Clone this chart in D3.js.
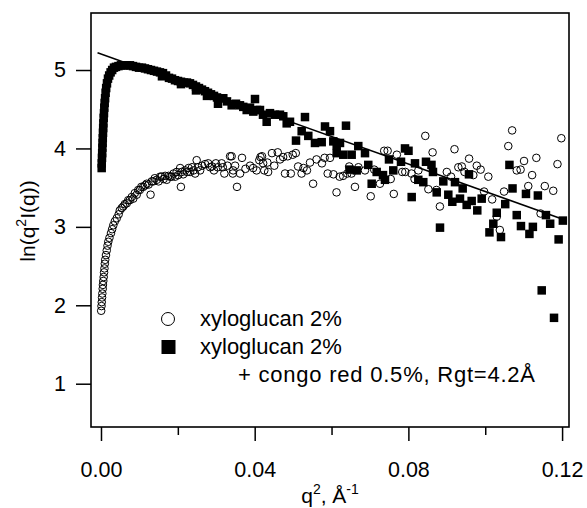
<!DOCTYPE html>
<meta charset="utf-8">
<style>
    body { margin: 0; background: #fff; }
    svg text { font-family: "Liberation Sans", Arial, sans-serif; fill: #000; }
    .axis path { display: none; }
    .axis line { stroke: #000; stroke-width: 1.5px; }
</style>
<body>
<svg width="587" height="508"></svg>
<script src="https://d3js.org/d3.v7.min.js"></script>
<script>
// xyloglucan 2% (open circles)
var xyloQ = [0.00005, 0.00013, 0.0002, 0.00028, 0.00035, 0.00045, 0.0005, 0.0006, 0.0007, 0.0008,
    0.0009, 0.001, 0.0011, 0.0013, 0.0015, 0.0017, 0.0019, 0.0022, 0.0026, 0.0029,
    0.0032, 0.0036, 0.0041, 0.0046, 0.0049, 0.0054, 0.0058, 0.0062, 0.0067, 0.0071,
    0.0075, 0.008, 0.0084, 0.0088, 0.0093, 0.0097, 0.0101, 0.0105, 0.011, 0.0115,
    0.0119, 0.0124, 0.0129, 0.0132, 0.0136, 0.014, 0.0145, 0.015, 0.0154, 0.0158,
    0.0163, 0.0167, 0.0171, 0.0176, 0.018, 0.0184, 0.0189, 0.0193, 0.0197, 0.0201,
    0.0206, 0.0208, 0.021, 0.0214, 0.0219, 0.0224, 0.0228, 0.0232, 0.0237, 0.0241,
    0.0245, 0.0249, 0.0252, 0.0258, 0.0263, 0.0271, 0.0279, 0.0284, 0.0289, 0.0294,
    0.0299, 0.0304, 0.0314, 0.0317, 0.0321, 0.0329, 0.0336, 0.034, 0.0343, 0.0344,
    0.0349, 0.0354, 0.0362, 0.0367, 0.0376, 0.0388, 0.0396, 0.0405, 0.0412, 0.0415,
    0.0419, 0.0422, 0.0425, 0.0433, 0.0435, 0.0445, 0.0451, 0.046, 0.0466, 0.0474,
    0.0479, 0.0486, 0.0494, 0.0499, 0.0507, 0.0513, 0.0522, 0.0527, 0.0536, 0.0544,
    0.0552, 0.0561, 0.0575, 0.0582, 0.059, 0.0596, 0.0605, 0.0613, 0.0621, 0.063,
    0.0641, 0.0646, 0.0652, 0.0661, 0.067, 0.0687, 0.0702, 0.0711, 0.0726, 0.0737,
    0.0746, 0.0754, 0.0762, 0.077, 0.0784, 0.0792, 0.0808, 0.0816, 0.0826, 0.0844,
    0.0852, 0.0863, 0.0873, 0.0882, 0.09, 0.0911, 0.092, 0.093, 0.0939, 0.0946,
    0.0958, 0.0969, 0.0978, 0.0988, 0.0997, 0.1008, 0.1018, 0.103, 0.1038, 0.1049,
    0.106, 0.107, 0.1082, 0.1092, 0.1101, 0.1112, 0.1122, 0.1133, 0.1144, 0.1155,
    0.1177, 0.1188, 0.1198];
var xyloLn = [1.93, 1.99, 2.04, 2.10, 2.15, 2.21, 2.26, 2.31, 2.36, 2.42,
    2.47, 2.53, 2.58, 2.64, 2.70, 2.76, 2.81, 2.86, 2.92, 2.97,
    3.02, 3.07, 3.11, 3.16, 3.21, 3.24, 3.26, 3.29, 3.30, 3.34,
    3.34, 3.38, 3.36, 3.43, 3.41, 3.47, 3.47, 3.51, 3.51, 3.53,
    3.55, 3.54, 3.41, 3.58, 3.58, 3.62, 3.60, 3.58, 3.64, 3.64,
    3.61, 3.65, 3.60, 3.65, 3.64, 3.64, 3.68, 3.64, 3.70, 3.66,
    3.75, 3.51, 3.70, 3.67, 3.72, 3.70, 3.75, 3.70, 3.76, 3.72,
    3.68, 3.85, 3.76, 3.72, 3.78, 3.80, 3.81, 3.76, 3.77, 3.72,
    3.81, 3.76, 3.81, 3.76, 3.68, 3.78, 3.90, 3.90, 3.68, 3.72,
    3.78, 3.51, 3.68, 3.88, 3.74, 3.78, 3.75, 3.72, 3.85, 3.89,
    3.90, 3.81, 3.72, 3.82, 3.70, 3.94, 3.78, 3.95, 3.86, 3.89,
    3.68, 3.90, 3.68, 3.92, 3.94, 3.77, 3.68, 3.75, 3.72, 3.82,
    3.55, 3.86, 3.81, 3.88, 3.68, 3.88, 3.67, 3.44, 3.64, 3.65,
    3.68, 3.77, 3.68, 3.51, 3.76, 3.72, 3.39, 3.73, 3.55, 3.97,
    3.97, 3.61, 3.42, 3.92, 3.70, 3.70, 3.68, 3.61, 3.72, 4.16,
    3.48, 3.95, 3.47, 3.26, 3.70, 3.64, 3.99, 3.76, 3.77, 3.70,
    3.87, 3.66, 3.78, 3.73, 3.45, 3.64, 3.35, 3.13, 2.96, 3.45,
    4.03, 4.23, 3.72, 3.73, 3.84, 3.52, 3.66, 3.88, 3.17, 3.52,
    3.46, 3.80, 4.13];

// xyloglucan 2% + congo red 0.5% (filled squares)
var congoQ = [0.00018, 0.0002, 0.00026, 0.00031, 0.00036, 0.00042, 0.00047, 0.00052, 0.00057, 0.00062,
    0.0007, 0.00078, 0.00086, 0.00096, 0.00107, 0.0012, 0.00135, 0.00156, 0.00182, 0.00213,
    0.0025, 0.00291, 0.00338, 0.0039, 0.00455, 0.0052, 0.006, 0.00677, 0.00755, 0.00833,
    0.00911, 0.00989, 0.01067, 0.01145, 0.01223, 0.01301, 0.01379, 0.01457, 0.01535, 0.01587,
    0.01613, 0.01692, 0.0177, 0.01848, 0.01926, 0.02004, 0.02082, 0.02082, 0.0216, 0.02238,
    0.02316, 0.02394, 0.02472, 0.02472, 0.0255, 0.02628, 0.02706, 0.02758, 0.02785, 0.02863,
    0.02941, 0.03019, 0.03045, 0.03097, 0.03183, 0.03279, 0.03401, 0.03513, 0.03617, 0.03703,
    0.03792, 0.03878, 0.03964, 0.04008, 0.0406, 0.04138, 0.04216, 0.04312, 0.04398, 0.04528,
    0.04658, 0.04744, 0.04833, 0.04919, 0.05075, 0.05223, 0.05309, 0.05395, 0.05569, 0.05744,
    0.0583, 0.0596, 0.06046, 0.06134, 0.0622, 0.06134, 0.06306, 0.06376, 0.06467, 0.06524,
    0.06655, 0.06696, 0.06871, 0.06956, 0.07045, 0.07175, 0.07339, 0.07391, 0.07495, 0.07607,
    0.07808, 0.07912, 0.08003, 0.08086, 0.08172, 0.08258, 0.08388, 0.08458, 0.08601, 0.0864,
    0.08737, 0.08823, 0.08909, 0.09039, 0.09143, 0.09213, 0.09343, 0.09413, 0.09517, 0.09577,
    0.09647, 0.09793, 0.09908, 0.1011, 0.1021, 0.1030, 0.1041, 0.1052, 0.1063, 0.1071,
    0.1082, 0.1093, 0.1106, 0.1115, 0.1124, 0.1137, 0.1147, 0.1158, 0.1169, 0.1179,
    0.1191, 0.1202];
var congoLn = [3.75, 3.81, 3.88, 3.94, 4.01, 4.07, 4.13, 4.20, 4.26, 4.32,
    4.39, 4.45, 4.52, 4.58, 4.64, 4.71, 4.77, 4.83, 4.89, 4.93,
    4.97, 5.00, 5.03, 5.04, 5.05, 5.06, 5.06, 5.06, 5.06, 5.05,
    5.04, 5.03, 5.03, 5.02, 5.01, 5.00, 4.99, 4.98, 4.97, 4.92,
    4.96, 4.93, 4.90, 4.89, 4.87, 4.86, 4.85, 4.82, 4.84, 4.84,
    4.83, 4.81, 4.79, 4.74, 4.77, 4.75, 4.73, 4.67, 4.71, 4.69,
    4.67, 4.65, 4.57, 4.64, 4.64, 4.60, 4.55, 4.57, 4.55, 4.53,
    4.49, 4.52, 4.47, 4.63, 4.49, 4.49, 4.43, 4.34, 4.45, 4.43,
    4.43, 4.41, 4.32, 4.34, 4.10, 4.22, 4.40, 4.16, 4.07, 4.08,
    4.28, 4.22, 4.09, 4.04, 4.07, 3.94, 3.92, 4.29, 3.73, 3.92,
    3.72, 4.03, 3.94, 3.79, 3.55, 3.70, 3.66, 3.60, 3.86, 3.72,
    3.83, 4.00, 3.97, 3.38, 3.81, 3.60, 3.57, 3.83, 3.79, 3.70,
    3.44, 2.99, 3.58, 3.41, 3.32, 3.57, 3.36, 3.49, 3.28, 3.67,
    3.33, 3.21, 3.36, 2.93, 3.04, 3.18, 2.87, 3.29, 3.79, 3.49,
    3.15, 3.01, 3.42, 2.91, 3.00, 3.40, 2.19, 3.15, 3.04, 1.84,
    2.84, 3.08];

// Guinier fit line, Rgt = 4.2 A
var fitQ = [-0.0009, 0.1200];
var fitLn = [5.22, 3.10];

var xMajor = [0.00, 0.04, 0.08, 0.12];
var xMinor = [0.02, 0.06, 0.10];
var yMajor = [1, 2, 3, 4, 5];

var svg = d3.select("svg");

var plot = { left: 91, right: 569, top: 13, bottom: 427 };

var x = d3.scaleLinear().domain([-0.0026, 0.1218]).range([plot.left, plot.right]);
var y = d3.scaleLinear().domain([0.448, 5.727]).range([plot.bottom, plot.top]);

// axes
var xAxis = svg.append("g")
    .attr("class", "axis")
    .attr("transform", "translate(0," + plot.bottom + ")")
    .call(d3.axisBottom(x).tickValues(xMajor).tickSize(14).tickPadding(21)
        .tickFormat(d3.format(".2f")));
xAxis.selectAll("text").style("font-size", "21.5px");

svg.append("g")
    .attr("class", "axis")
    .attr("transform", "translate(0," + plot.bottom + ")")
    .call(d3.axisBottom(x).tickValues(xMinor).tickSize(8).tickFormat(""));

var yAxis = svg.append("g")
    .attr("class", "axis")
    .attr("transform", "translate(" + plot.left + ",0)")
    .call(d3.axisLeft(y).tickValues(yMajor).tickSize(15).tickPadding(10)
        .tickFormat(d3.format("d")));
yAxis.selectAll("text").style("font-size", "21.5px");

// frame
svg.append("rect")
    .attr("x", plot.left)
    .attr("y", plot.top)
    .attr("width", plot.right - plot.left)
    .attr("height", plot.bottom - plot.top)
    .attr("fill", "none")
    .attr("stroke", "#000")
    .attr("stroke-width", 1.6);

// open circles
svg.append("g").selectAll("circle")
    .data(xyloQ)
    .enter().append("circle")
    .attr("cx", function (d) { return x(d); })
    .attr("cy", function (d, i) { return y(xyloLn[i]); })
    .attr("r", 3.8)
    .attr("fill", "none")
    .attr("stroke", "#000")
    .attr("stroke-width", 1);

// filled squares
var sq = 8.5;
svg.append("g").selectAll("rect")
    .data(congoQ)
    .enter().append("rect")
    .attr("x", function (d) { return x(d) - sq / 2; })
    .attr("y", function (d, i) { return y(congoLn[i]) - sq / 2; })
    .attr("width", sq)
    .attr("height", sq)
    .attr("fill", "#000");

// fit
svg.append("path")
    .datum(fitQ)
    .attr("fill", "none")
    .attr("stroke", "#000")
    .attr("stroke-width", 1.5)
    .attr("d", d3.line()
        .x(function (d) { return x(d); })
        .y(function (d, i) { return y(fitLn[i]); }));

// legend
svg.append("circle")
    .attr("cx", 168).attr("cy", 319).attr("r", 6.5)
    .attr("fill", "none").attr("stroke", "#000").attr("stroke-width", 1);
svg.append("rect")
    .attr("x", 161.5).attr("y", 340).attr("width", 14).attr("height", 14)
    .attr("fill", "#000");

var legend = [
    { text: "xyloglucan 2%", x: 200, y: 326, len: null },
    { text: "xyloglucan 2%", x: 200, y: 354, len: null },
    { text: "+ congo red 0.5%, Rgt=4.2\u00C5", x: 238, y: 382, len: 297 }
];
svg.selectAll(".legend")
    .data(legend)
    .enter().append("text")
    .attr("class", "legend")
    .attr("x", function (d) { return d.x; })
    .attr("y", function (d) { return d.y; })
    .attr("textLength", function (d) { return d.len; })
    .attr("lengthAdjust", "spacing")
    .style("font-size", "22px")
    .text(function (d) { return d.text; });

// axis titles
var xt = svg.append("text")
    .attr("x", 330)
    .attr("y", 503)
    .attr("text-anchor", "middle")
    .style("font-size", "21px");
xt.append("tspan").text("q");
xt.append("tspan").attr("dy", -9).style("font-size", "14px").text("2");
xt.append("tspan").attr("dy", 9).text(", \u00C5");
xt.append("tspan").attr("dy", -9).style("font-size", "14px").text("-1");

var yt = svg.append("text")
    .attr("transform", "translate(35,221) rotate(-90)")
    .attr("text-anchor", "middle")
    .style("font-size", "21px");
yt.append("tspan").text("ln(q");
yt.append("tspan").attr("dy", -9).style("font-size", "14px").text("2");
yt.append("tspan").attr("dy", 9).text("I(q))");
</script>
</body>
